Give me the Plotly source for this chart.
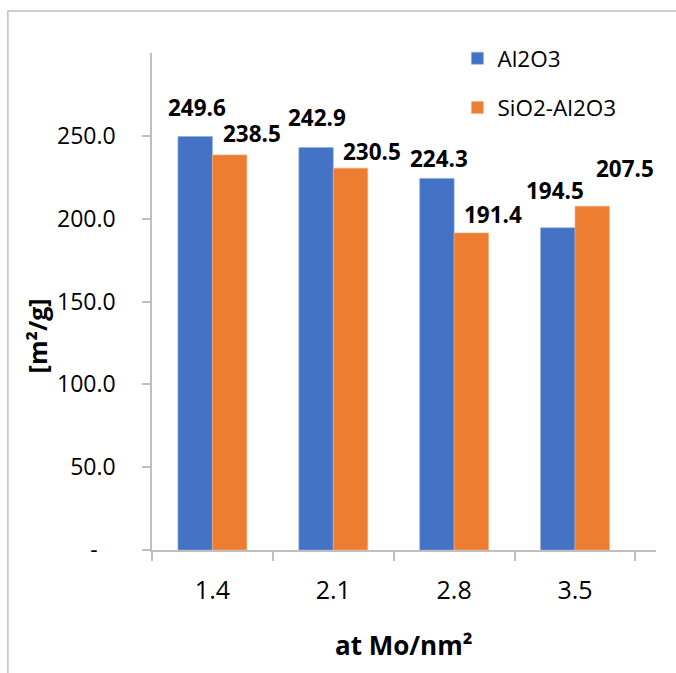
import plotly.graph_objects as go

categories = ["1.4", "2.1", "2.8", "3.5"]
al2o3 = [249.6, 242.9, 224.3, 194.5]
sio2_al2o3 = [238.5, 230.5, 191.4, 207.5]
series_names = ["Al2O3", "SiO2-Al2O3"]
ytick_vals = [0, 50, 100, 150, 200, 250]
ytick_text = ["-\u00a0\u00a0\u00a0", "50.0", "100.0", "150.0", "200.0", "250.0"]

# label offsets (px) relative to bar center / bar top, as placed in the reference
blue_dx = [3, 2, 3, -2]
blue_gap = [19, 20, 9, 27]
orange_dx = [22, 21, 21, 32]
orange_gap = [11, 6, 8, 27]

BLUE = "#4472C4"
ORANGE = "#ED7D31"
FONT = "Open Sans"
AXIS_COLOR = "#bfbfbf"

fig = go.Figure()
fig.add_trace(go.Bar(x=categories, y=al2o3, name=series_names[0], legendgroup="a",
                     marker=dict(color=BLUE, line=dict(color="#8faadc", width=0.6))))
fig.add_trace(go.Bar(x=categories, y=sio2_al2o3, name=series_names[1], legendgroup="b",
                     marker=dict(color=ORANGE, line=dict(color="#f4b183", width=0.6))))

BAR_HALF = 18
ann = []
for i, c in enumerate(categories):
    ann.append(dict(x=i, y=al2o3[i], xref="x", yref="y", text=f"<b>{al2o3[i]:.1f}</b>",
                    showarrow=False, xanchor="center", yanchor="bottom",
                    xshift=-BAR_HALF + blue_dx[i], yshift=blue_gap[i] - 7,
                    font=dict(family=FONT, size=22.5, color="black")))
    ann.append(dict(x=i, y=sio2_al2o3[i], xref="x", yref="y", text=f"<b>{sio2_al2o3[i]:.1f}</b>",
                    showarrow=False, xanchor="center", yanchor="bottom",
                    xshift=BAR_HALF + orange_dx[i], yshift=orange_gap[i] - 7,
                    font=dict(family=FONT, size=22.5, color="black")))

# axis titles
ann.append(dict(x=0.5, y=-0.192, xref="paper", yref="paper", text="<b>at Mo/nm²</b>",
                showarrow=False, xanchor="center", yanchor="middle",
                font=dict(family=FONT, size=26, color="black")))
ann.append(dict(x=-0.228, y=0.43, xref="paper", yref="paper", text="<b>[m²/g]</b>",
                showarrow=False, xanchor="center", yanchor="middle", textangle=-90,
                font=dict(family=FONT, size=25, color="black")))

fig.update_layout(
    width=676, height=673,
    margin=dict(l=152, r=20, t=53, b=123, autoexpand=False),
    paper_bgcolor="white", plot_bgcolor="white",
    barmode="group", bargap=0.43, bargroupgap=0,
    font=dict(family=FONT, size=23, color="black"),
    annotations=ann,
    legend=dict(x=0.606, y=1.032, xanchor="left", yanchor="top",
                font=dict(family=FONT, size=22.5, color="black"),
                tracegroupgap=17, bgcolor="rgba(0,0,0,0)"),
    shapes=[dict(type="rect", xref="paper", yref="paper",
                 x0=-0.286, x1=1.3, y0=-0.5, y1=1.0845,
                 line=dict(color="#bfbfbf", width=1.5))],
)
fig.update_xaxes(type="category", automargin=False, showgrid=False, showline=True,
                 linecolor=AXIS_COLOR, linewidth=1.5,
                 ticks="outside", tickson="boundaries", ticklen=9, tickcolor=AXIS_COLOR,
                 tickwidth=1.5, ticklabelstandoff=17, tickfont=dict(size=25))
fig.update_yaxes(range=[0, 300], automargin=False, showgrid=False, showline=True,
                 linecolor=AXIS_COLOR,
                 linewidth=1.5, ticks="outside", ticklen=8, tickcolor=AXIS_COLOR, tickwidth=1.5,
                 tickvals=ytick_vals, ticktext=ytick_text, ticklabelstandoff=22,
                 tickfont=dict(size=23), zeroline=False)

fig.write_html("out.html", config={"displayModeBar": False},
               post_script="document.body.style.margin='0';")
